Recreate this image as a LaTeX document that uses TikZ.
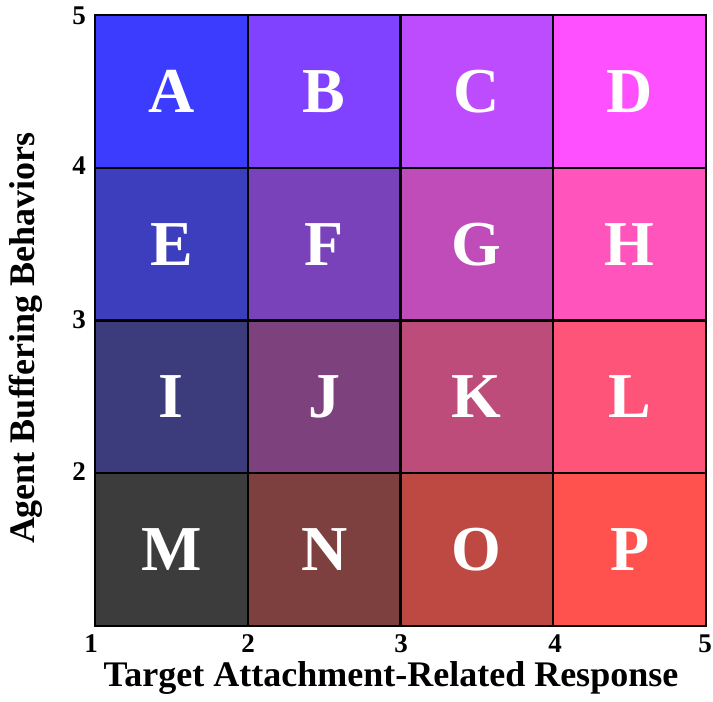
\documentclass[tikz,border=0pt]{standalone}
\usepackage{fontspec}
\setmainfont{Liberation Serif}
\definecolor{c00}{RGB}{60,60,60}
\definecolor{c10}{RGB}{125,64,62}
\definecolor{c20}{RGB}{190,72,66}
\definecolor{c30}{RGB}{255,82,78}
\definecolor{c01}{RGB}{60,60,125}
\definecolor{c11}{RGB}{125,66,125}
\definecolor{c21}{RGB}{190,76,122}
\definecolor{c31}{RGB}{255,84,122}
\definecolor{c02}{RGB}{60,62,190}
\definecolor{c12}{RGB}{122,66,186}
\definecolor{c22}{RGB}{192,76,186}
\definecolor{c32}{RGB}{255,84,188}
\definecolor{c03}{RGB}{60,60,255}
\definecolor{c13}{RGB}{128,66,255}
\definecolor{c23}{RGB}{190,76,255}
\definecolor{c33}{RGB}{255,80,255}
\begin{document}
\begin{tikzpicture}[x=1pt,y=-1pt,
  cell/.style={draw=black,line width=2.4pt,minimum width=152.75pt,minimum height=152.75pt,inner sep=0pt,anchor=center,text=white,font=\fontsize{64}{64}\selectfont\bfseries},
  tick/.style={font=\fontsize{27}{27}\selectfont\bfseries,inner sep=0pt,anchor=center},
  axlab/.style={font=\fontsize{36}{36}\selectfont\bfseries,inner sep=0pt,anchor=center}]
\useasboundingbox (0,0) rectangle (713,702);
\fill[white] (0,0) rectangle (713,702);
\def\cx#1{95+152.75*#1+76.375}
\def\cy#1{626-152.75*#1-76.375}
\node[cell,fill=c03] (A) at (\cx{0},\cy{3}) {A};
\node[cell,fill=c13] (B) at (\cx{1},\cy{3}) {B};
\node[cell,fill=c23] (C) at (\cx{2},\cy{3}) {C};
\node[cell,fill=c33] (D) at (\cx{3},\cy{3}) {D};
\node[cell,fill=c02] (E) at (\cx{0},\cy{2}) {E};
\node[cell,fill=c12] (F) at (\cx{1},\cy{2}) {F};
\node[cell,fill=c22] (G) at (\cx{2},\cy{2}) {G};
\node[cell,fill=c32] (H) at (\cx{3},\cy{2}) {H};
\node[cell,fill=c01] (I) at (\cx{0},\cy{1}) {I};
\node[cell,fill=c11] (J) at (\cx{1},\cy{1}) {J};
\node[cell,fill=c21] (K) at (\cx{2},\cy{1}) {K};
\node[cell,fill=c31] (L) at (\cx{3},\cy{1}) {L};
\node[cell,fill=c00] (M) at (\cx{0},\cy{0}) {M};
\node[cell,fill=c10] (N) at (\cx{1},\cy{0}) {N};
\node[cell,fill=c20] (O) at (\cx{2},\cy{0}) {O};
\node[cell,fill=c30] (P) at (\cx{3},\cy{0}) {P};
% x ticks
\node[tick] (x1) at (91,644) {1};
\node[tick] (x2) at (248,644) {2};
\node[tick] (x3) at (401,644) {3};
\node[tick] (x4) at (555,644) {4};
\node[tick] (x5) at (705,644) {5};
% y ticks
\node[tick] (y5) at (79,16) {5};
\node[tick] (y4) at (79,166) {4};
\node[tick] (y3) at (79,320) {3};
\node[tick] (y2) at (79,472) {2};
% axis labels
\node[axlab] (xl) at (391,678) {Target Attachment-Related Response};
\node[axlab,rotate=90] (yl) at (26,338) {Agent Buffering Behaviors};
\end{tikzpicture}
\end{document}
